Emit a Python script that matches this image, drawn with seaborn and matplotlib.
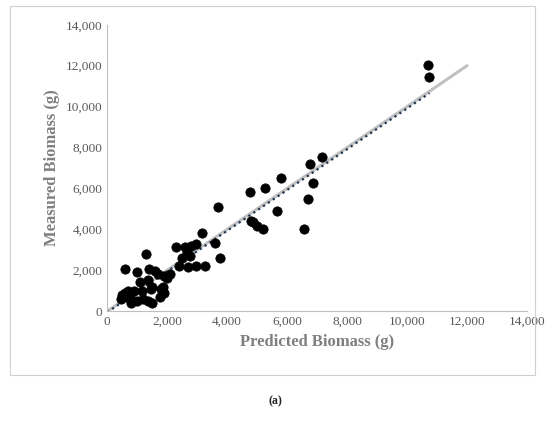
import numpy as np
import pandas as pd
import matplotlib
matplotlib.use("Agg")
import matplotlib.pyplot as plt
import seaborn as sns
from matplotlib.ticker import FuncFormatter
from matplotlib.patches import Rectangle

## Data ##
predicted = [10700, 10750, 7150, 6850, 6750, 6700, 6550, 5800, 5650, 5250, 5200, 5000, 4800, 4850,
             4750, 3700, 3750, 3600, 3250, 3150, 2950, 2950, 2750, 2700, 2800, 2650, 2500, 2600,
             2300, 2400, 2100, 1900, 1800, 1750, 1500, 1400, 1300, 1600, 1350, 1200, 1350, 1500,
             1100, 1000, 900, 800, 700, 600, 600, 500, 450, 650, 1000, 1700, 1900, 1850, 1450,
             2000, 750, 1150]
measured = [12050, 11450, 7550, 6250, 7200, 5500, 4000, 6500, 4900, 6000, 4000, 4150, 4400, 4350,
            5850, 5100, 2600, 3350, 2200, 3800, 3300, 2200, 2700, 2150, 3200, 2900, 2600, 3150,
            3150, 2200, 1800, 1700, 1100, 700, 1200, 2050, 2800, 1950, 1500, 600, 500, 400,
            1450, 1900, 1000, 400, 1000, 2050, 900, 800, 600, 700, 500, 1800, 900, 1200, 1100,
            1600, 700, 1000]
one_to_one = [0, 12000]
df = pd.DataFrame({'pred': predicted, 'meas': measured})

sns.set_style('white')
plt.rcParams['font.family'] = ['Liberation Serif', 'DejaVu Serif']

fig = plt.figure(figsize=(5.5, 4.28), dpi=100)
fig.patches.append(Rectangle((0.018, 0.125), 0.955, 0.862, transform=fig.transFigure,
                             fill=False, edgecolor='#d0d0d0', linewidth=0.8))
ax = fig.add_axes([0.195, 0.273, 0.763, 0.669])

## 1:1 line and fitted trend ##
ax.plot(one_to_one, one_to_one, color='#c0c0c0', linewidth=2.2, zorder=1)
fit = np.polyfit(df['pred'], df['meas'], 1)
xs = np.array([0, df['pred'].max()])
ax.plot(xs, np.polyval(fit, xs), color='#1f3550', linestyle=':', linewidth=1.6, zorder=2)

sns.scatterplot(data=df, x='pred', y='meas', color='black', s=45, edgecolor='black', ax=ax, zorder=3)

ax.set_xlim(0, 14000)
ax.set_ylim(0, 14000)
ax.set_xticks(range(0, 14001, 2000))
ax.set_yticks(range(0, 14001, 2000))
fmt = FuncFormatter(lambda v, p: f'{int(v):,}')
ax.xaxis.set_major_formatter(fmt)
ax.yaxis.set_major_formatter(fmt)
ax.tick_params(labelsize=9.5, colors='#595959', length=0)
for s in ['top', 'right']:
    ax.spines[s].set_visible(False)
for s in ['left', 'bottom']:
    ax.spines[s].set_color('#bfbfbf')
ax.set_xlabel('Predicted Biomass (g)', fontsize=12, fontweight='bold', color='#7f7f7f')
ax.set_ylabel('Measured Biomass (g)', fontsize=12, fontweight='bold', color='#7f7f7f')

fig.text(0.5, 0.055, '(a)', ha='center', fontsize=8.5, fontweight='bold')
fig.savefig('out.png', dpi=100)
